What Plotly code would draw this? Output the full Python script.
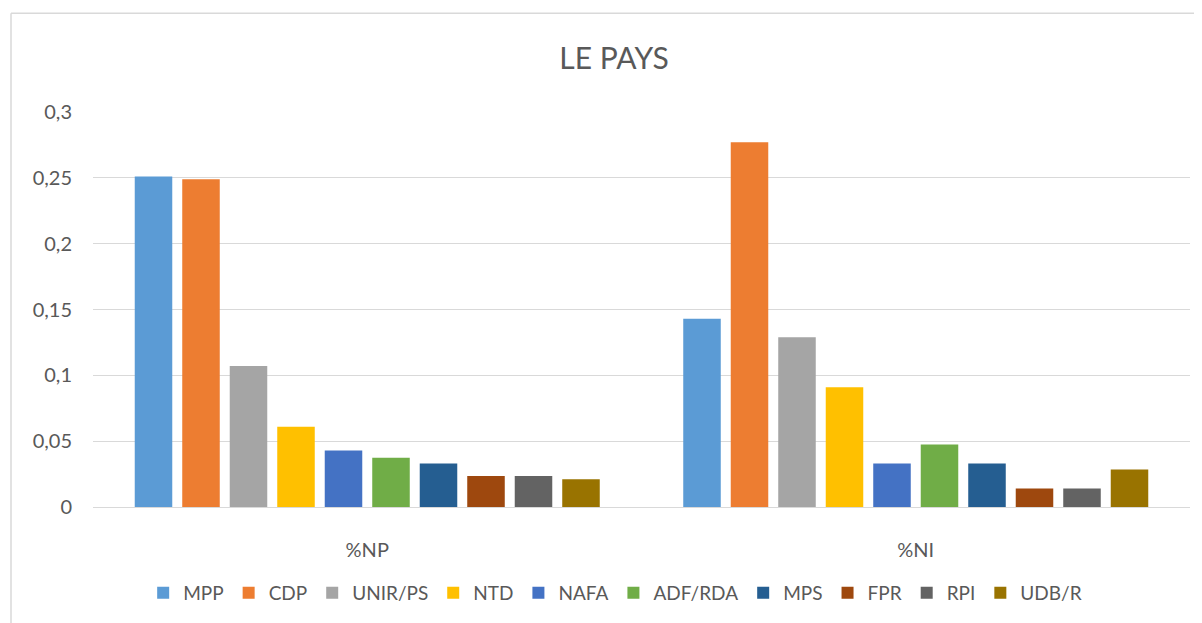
import plotly.graph_objects as go

categories = ["%NP", "%NI"]
parties = ["MPP", "CDP", "UNIR/PS", "NTD", "NAFA", "ADF/RDA", "MPS", "FPR", "RPI", "UDB/R"]
np_values = [0.251, 0.249, 0.107, 0.061, 0.043, 0.0375, 0.033, 0.0235, 0.0235, 0.021]
ni_values = [0.143, 0.277, 0.129, 0.091, 0.033, 0.0475, 0.033, 0.014, 0.014, 0.0285]
colors = ["#5B9BD5", "#ED7D31", "#A5A5A5", "#FFC000", "#4472C4",
          "#70AD47", "#255E91", "#9E480E", "#636363", "#997300"]

FONT = "Lato"
TXT = "#595959"

fig = go.Figure()
for i, p in enumerate(parties):
    fig.add_trace(go.Bar(
        name=p, x=categories, y=[np_values[i], ni_values[i]],
        marker=dict(color=colors[i], line=dict(width=0)),
    ))

# page body has an 8px margin: figure coords = page coords - 8
OFF = 8
W, H = 1202 - OFF, 623 - OFF
L, T = 93 - OFF, 112 - OFF
R = W - (1190 - OFF)
B = H - (508 - OFF)
pw, ph = W - L - R, H - T - B
zero_y = 508 - OFF

fig.update_layout(
    width=W, height=H,
    margin=dict(l=L, r=R, t=T, b=B),
    paper_bgcolor="white", plot_bgcolor="white",
    separators=", ",
    barmode="group", bargap=0.134, bargroupgap=0.21,
    font=dict(family=FONT, color=TXT, size=20),
    title=dict(text="LE PAYS", x=(614 - OFF) / W, xanchor="center",
               yref="container", y=1 - (58 - OFF) / H, yanchor="middle",
               font=dict(family=FONT, size=30, color=TXT)),
    showlegend=True,
    legend=dict(orientation="h", x=0.476, xanchor="center",
                y=(zero_y - (593 - OFF)) / ph, yanchor="middle",
                font=dict(family=FONT, size=19, color=TXT),
                traceorder="normal", itemclick=False),
    xaxis=dict(showgrid=False, showline=True, linecolor="#D9D9D9", linewidth=1,
               ticks="", ticklabelstandoff=25,
               tickfont=dict(family=FONT, size=20, color=TXT)),
    yaxis=dict(range=[0, 0.3], dtick=0.05, showgrid=True, gridcolor="#D9D9D9",
               gridwidth=1, zeroline=True, zerolinecolor="#D9D9D9", zerolinewidth=1,
               showline=False, ticks="", ticklabelstandoff=20,
               tickfont=dict(family=FONT, size=20, color=TXT)),
)

# chart-area border (left and top edges visible in the crop)
x_left = (11 - OFF - L) / pw
y_top = (zero_y - (13 - OFF)) / ph
fig.add_shape(type="line", xref="paper", yref="paper",
              x0=x_left, x1=x_left, y0=-(B + 5) / ph, y1=y_top,
              line=dict(color="#D9D9D9", width=1.5))
fig.add_shape(type="line", xref="paper", yref="paper",
              x0=x_left, x1=(W - L + 5) / pw, y0=y_top, y1=y_top,
              line=dict(color="#D9D9D9", width=1.5))

fig.write_html("out.html")
